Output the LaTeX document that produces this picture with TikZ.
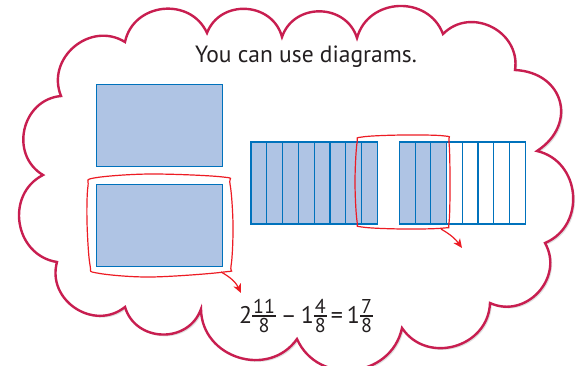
\documentclass[tikz,border=0pt]{standalone}
\usepackage{fontspec}
\setmainfont{PT Sans}
\usepackage{tikz}
\usetikzlibrary{arrows.meta, shadows}
\definecolor{cloudred}{RGB}{200,30,80}
\definecolor{ringred}{RGB}{237,28,36}
\definecolor{boxblue}{RGB}{0,114,188}
\definecolor{boxfill}{RGB}{175,196,228}
\definecolor{ink}{RGB}{35,31,32}
\newcommand{\smallfr}{\fontsize{20}{22}\selectfont}
% stacked fraction in text font
\newcommand{\fr}[2]{\begingroup\smallfr
    \setbox0\hbox{#1}\setbox2\hbox{#2}%
    \dimen0=\ifdim\wd0>\wd2 \wd0\else\wd2\fi
    \advance\dimen0 by 2pt
    \dimen2=\dimexpr 7pt-\ht2-2.6pt\relax
    \raise\dimen2\vbox{\hbox to\dimen0{\hss\box0\hss}\kern2pt\hrule height 1.2pt\kern2pt
        \hbox to\dimen0{\hss\box2\hss}}\endgroup}
\newcommand{\mixed}[3]{#1\fr{#2}{#3}}

\begin{document}
\begin{tikzpicture}[
    x=1pt, y=-1pt,
    cloud/.style={draw=cloudred, line width=2.4pt, fill=white, line join=miter,
        drop shadow={shadow xshift=1.8pt, shadow yshift=-1.8pt, fill=black!25}},
    bump/.style={bend left=72, looseness=1.25},
    whole/.style={rectangle, draw=boxblue, fill=boxfill, line width=1.3pt, inner sep=0pt,
        minimum width=126pt, minimum height=82pt},
    cell/.style={draw=boxblue, line width=1.1pt},
    ring/.style={draw=ringred, line width=1.2pt},
    pointer/.style={draw=ringred, line width=1.2pt, -{Stealth[length=9pt, width=8pt, inset=2.5pt]}}
]
    \useasboundingbox (0,0) rectangle (585,365);

    % cloud outline
    \draw[cloud] (61,96) to[bump] (125,42) to[bump] (207,33) to[bump] (282,37)
        to[bump] (357,38) to[bump] (443,34) to[bump] (515,70) to[bump, looseness=1.5] (537,151)
        to[bump] (545,243) to[bump] (490,303) to[bump] (402,328) to[bump] (297,339)
        to[bump] (201,309) to[bump] (125,307) to[bump] (57,262) to[bump] (43,175)
        to[bump] (61,96) -- cycle;

    \node[anchor=base, text=ink, font=\fontsize{23.5}{27}\selectfont] (title) at (306,62) {You can use diagrams.};

    % two wholes
    \node[whole] (topwhole) at (159.3,125.5) {};
    \node[whole] (botwhole) at (159.3,225.3) {};

    % eighths
    \foreach \i in {0,...,7}
        \draw[cell, fill=boxfill] ({251+15.8*\i},142) rectangle ++(15.8,82);
    \foreach \i in {0,1,2}
        \draw[cell, fill=boxfill] ({399.5+15.7*\i},142) rectangle ++(15.7,82);
    \foreach \i in {3,...,7}
        \draw[cell, fill=white] ({399.5+15.7*\i},142) rectangle ++(15.7,82);

    % red rings
    \draw[ring] plot[smooth cycle, tension=0.55] coordinates {(94,178) (150,174) (223,177) (230,184)
        (233,225) (231,266) (224,272) (150,277) (97,273) (90,265) (87,222) (88,186)};
    \draw[ring] plot[smooth cycle, tension=0.55] coordinates {(362,137) (403,135) (445,136) (449,142)
        (450,182) (449,223) (444,228) (403,229) (362,227) (357,221) (355,182) (357,143)};

    \node[anchor=base, text=ink, font=\fontsize{24}{27}\selectfont] (eq) at (306,323)
        {\mixed{2}{11}{8}\hspace{5pt}–\hspace{4pt}\mixed{1}{4}{8}\hspace{4pt}=\hspace{4pt}\mixed{1}{7}{8}};

    \coordinate (lefttail) at (221,272);
    \coordinate (lefthead) at (241,293);
    \coordinate (righttail) at (441,229);
    \coordinate (righthead) at (462,248);
    \draw[pointer] (lefttail) to[bend left=18] (lefthead);
    \draw[pointer] (righttail) to[bend left=12] (righthead);
\end{tikzpicture}
\end{document}
